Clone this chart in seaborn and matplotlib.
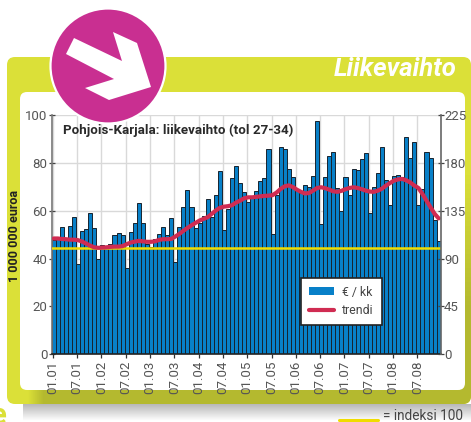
import numpy as np
import pandas as pd
import matplotlib
matplotlib.use("Agg")
import matplotlib.pyplot as plt
import seaborn as sns
from matplotlib.colors import to_rgb
from matplotlib.patches import FancyBboxPatch, Circle, Polygon, Patch
from matplotlib.lines import Line2D

# Monthly turnover, 2001-2008 (1 000 000 euro)
liikevaihto = [47.8, 49, 53, 48.5, 53.8, 57.5, 37.8, 51.5, 52.4, 59, 52.7, 40,
               45.5, 45, 46, 49.7, 50.6, 50, 36, 51.3, 54.7, 63.4, 54.9, 46,
               45, 48, 50.3, 53.4, 50, 56.8, 38.5, 53, 61.5, 68.5, 61.5, 52.8,
               55, 57.6, 64.8, 57.4, 66.7, 76.6, 51.8, 60.8, 73.7, 78.6, 71.5, 68,
               63.5, 65.2, 68.1, 72.5, 73.7, 86, 50.2, 66.6, 86.5, 85.7, 77.5, 74,
               68.7, 67.3, 70.9, 69.8, 74.4, 97.7, 54.5, 74, 83, 84.6, 69.7, 59.9,
               74.3, 66.7, 77.6, 76.9, 81.5, 84.2, 58.9, 69.8, 75.7, 86.8, 72.9, 62.4,
               74.5, 75, 74, 90.7, 81.9, 88.6, 62.3, 69, 84.4, 82.2, 56, 47.5]
trendi = [48.4, 48.4, 48.2, 48.1, 47.9, 47.9, 47.7, 47.1, 46.3, 45.4, 44.7, 44.5,
          44.6, 44.7, 44.9, 45, 45, 45.2, 46, 46.7, 47.1, 47.4, 47.2, 47,
          47, 47.2, 47.8, 48.1, 48.1, 48.2, 49.2, 50.3, 51.6, 52.8, 53.9, 54.9,
          55.9, 56.6, 57.3, 58.7, 60.1, 61.2, 61.7, 61.9, 62.3, 63.4, 64.2, 65.2,
          65.6, 65.6, 65.8, 66, 66.2, 66.3, 66.5, 67.6, 69.1, 70.2, 70.6, 69.9,
          68.8, 67.9, 67.2, 67.4, 68.4, 69.5, 69.8, 69.4, 68.8, 68.1, 67.9, 68.3,
          69, 69.5, 69.8, 69.5, 69, 68.4, 68, 67.9, 68.4, 69.2, 70.5, 71.6,
          72.6, 73.1, 73.3, 72.7, 71.8, 70.5, 69.5, 67, 64.2, 61.4, 58.7, 56.8]
tick_labels = ['01.01', '07.01', '01.02', '07.02', '01.03', '07.03', '01.04', '07.04',
               '01.05', '07.05', '01.06', '07.06', '01.07', '07.07', '01.08', '07.08']
vasen_ticks = [0, 20, 40, 60, 80, 100]
oikea_ticks = [0, 45, 90, 135, 180, 225]
indeksi = 100

df = pd.DataFrame({'kk': range(len(liikevaihto)), 'arvo': liikevaihto, 'trendi': trendi})

sns.set_style("white")
plt.rcParams['font.family'] = ['Roboto', 'DejaVu Sans']

W, H = 471, 422
LIME = '#dbe038'
OLIVE = '#b4b92f'
fig = plt.figure(figsize=(W / 100, H / 100), dpi=100)


def fade(c1, c2, n, horizontal):
    # small rgb ramp for the panel's shaded edges
    ramp = np.linspace(to_rgb(c1), to_rgb(c2), n)
    return ramp[None, :, :] if horizontal else ramp[:, None, :]


# background panel, drawn in pixel coordinates
bg = fig.add_axes([0, 0, 1, 1], zorder=0)
bg.axis('off')
shade = np.linspace(0.72, 1, 40).reshape(-1, 1)
bg.imshow(shade, extent=(23, W, 421, 404), cmap='gray', vmin=0, vmax=1, aspect='auto', zorder=1)
panel = FancyBboxPatch((13, 63), 452, 335, boxstyle="round,pad=6,rounding_size=8", fc=LIME, ec='none', zorder=2)
bg.add_patch(panel)
im1 = bg.imshow(fade(LIME, OLIVE, 30, True), extent=(28, 44, 404, 390), aspect='auto', zorder=3)
im2 = bg.imshow(np.full((1, 1, 3), to_rgb(OLIVE)), extent=(44, W, 404, 390), aspect='auto', zorder=3)
im3 = bg.imshow(fade(LIME, OLIVE, 30, False), extent=(460, W, 310, 170), aspect='auto', zorder=3)
im4 = bg.imshow(np.full((1, 1, 3), to_rgb(OLIVE)), extent=(460, W, 392, 310), aspect='auto', zorder=3)
for im in [im1, im2, im3, im4]:
    im.set_clip_path(panel)
bg.set_xlim(0, W)
bg.set_ylim(H, 0)
bg.add_patch(FancyBboxPatch((26, 98), 433, 286, boxstyle="round,pad=6,rounding_size=7", fc='white', ec='none', zorder=4))
bg.text(457, 69, 'Liikevaihto', color='white', fontsize=18.5, fontstyle='italic', fontweight='bold',
        ha='right', va='center', zorder=5)
bg.text(-9, 416, 'e', color=LIME, fontsize=21, fontweight='bold', ha='left', va='center', zorder=5)

# chart
ax = fig.add_axes([51.7 / W, 1 - 354.3 / H, 389 / W, 239.3 / H], zorder=1)
ax.patch.set_alpha(0)
ax.set_axisbelow(True)
sns.barplot(data=df, x='kk', y='arvo', color='#0880c8', saturation=1, width=1,
            edgecolor='#17232e', linewidth=0.7, ax=ax, zorder=2)
ax.axhline(indeksi / 225 * 100, color='#f0dc00', lw=1.8, zorder=3)
sns.lineplot(data=df, x='kk', y='trendi', color='#d02c52', lw=3, ax=ax, zorder=4,
             solid_capstyle='round', errorbar=None)
ax.set_xlim(-0.5, 95.5)
ax.set_ylim(0, 100)
ax.set_xlabel('')
ax.set_ylabel('1 000 000 euroa', fontsize=9, fontweight='bold', color='#222222')
ax.yaxis.set_label_coords(-0.08, 0.495)

kuukaudet = [i * 6 - 0.25 for i in range(len(tick_labels))]
ax.set_xticks(kuukaudet)
ax.set_xticklabels(tick_labels, rotation=90, fontsize=9.5, color='#555555')
ax.set_yticks(vasen_ticks)
ax.set_yticklabels(vasen_ticks, fontsize=9.5, color='#555555')
ax.tick_params(axis='x', length=3, width=0.9, color='#333333', bottom=True, pad=1.5)
ax.tick_params(axis='y', direction='inout', length=5, width=0.9, color='#444444', left=True, pad=0.5)
ax.grid(True, color='#d9d9d9', lw=1)
for s in ['top', 'right']:
    ax.spines[s].set_visible(False)
ax.spines['left'].set_color('#777777')
ax.spines['left'].set_linewidth(1.2)
ax.spines['bottom'].set_color('#222222')
ax.spines['bottom'].set_linewidth(1.2)

ax.text(63, 130.5, 'Pohjois-Karjala: liikevaihto (tol 27-34)', transform=bg.transData, fontsize=9.6,
        fontweight='bold', color='#2a2a2a', va='center', ha='left', zorder=6)

ax2 = ax.twinx()
ax2.set_ylim(0, 225)
ax2.set_yticks(oikea_ticks)
ax2.set_yticklabels(oikea_ticks, fontsize=9.5, color='#555555')
ax2.tick_params(axis='y', direction='inout', length=5, width=0.9, color='#444444', right=True, pad=0)
ax2.grid(False)
for s in ['top', 'left', 'bottom']:
    ax2.spines[s].set_visible(False)
ax2.spines['right'].set_color('#666666')
ax2.spines['right'].set_linewidth(1.2)

handles = [Patch(facecolor='#0880c8', edgecolor='none'),
           Line2D([0], [0], color='#d02c52', lw=3)]
leg = ax2.legend(handles, ['€ / kk', 'trendi'], loc='lower left',
                 bbox_to_anchor=((300.7 - 51.7) / 389, (354.3 - 325) / 239.3, 81 / 389, 44.3 / 239.3),
                 mode='expand', borderaxespad=0, fontsize=8.8, fancybox=False, framealpha=1,
                 edgecolor='#222222', handlelength=2.1, handleheight=0.6, labelcolor='#444444',
                 borderpad=0.65, labelspacing=0.45, handletextpad=0.6)
leg.get_frame().set_linewidth(1.2)
leg.set_zorder(10)

# badge on top of everything, plus the index key under the panel
top = fig.add_axes([0, 0, 1, 1], zorder=3)
top.set_xlim(0, W)
top.set_ylim(H, 0)
top.axis('off')
top.add_patch(Circle((108, 66), 57.5, fc='#c92f91', ec='white', lw=1.6))
top.add_patch(Polygon([(74, 38), (122, 61), (113, 32), (137, 43), (151, 87),
                       (109, 100), (85, 88), (114, 79), (66, 54)], fc='white', ec='none'))
top.plot([339, 378], [420, 420], color='#f0dc00', lw=2.2)
top.text(383, 415.5, '= indeksi 100', fontsize=9.8, color='#444444', ha='left', va='center')

fig.savefig('out.png', dpi=100)
